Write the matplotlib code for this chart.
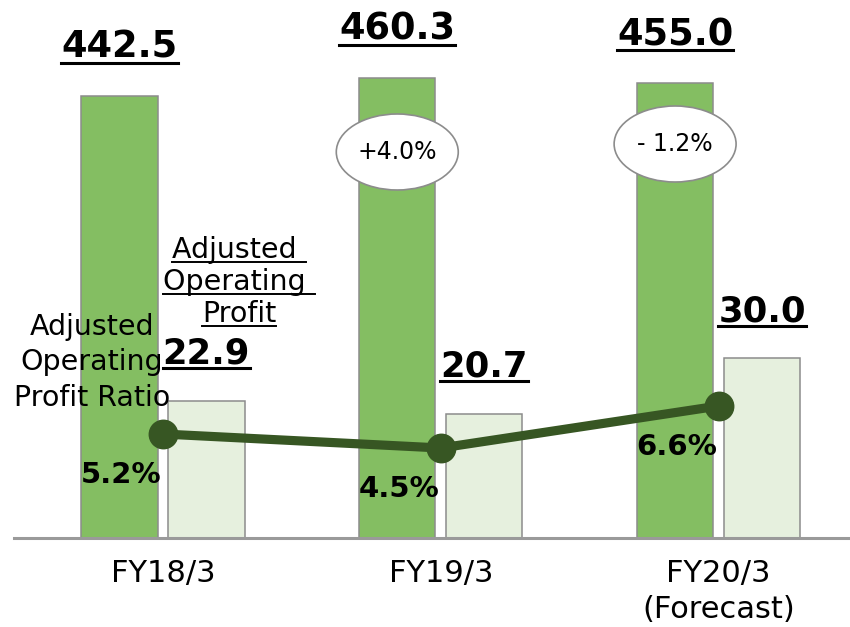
import numpy as np
import matplotlib
matplotlib.use('Agg')
import matplotlib.pyplot as plt
from matplotlib.patches import Ellipse
from matplotlib.lines import Line2D
from matplotlib.transforms import IdentityTransform

# ── Data ─────────────────────────────────────────────────────────
years  = ['FY18/3', 'FY19/3', 'FY20/3\n(Forecast)']
sales  = [442.5, 460.3, 455.0]      # net sales
profit = [22.9, 20.7, 30.0]         # adjusted operating profit
ratio  = [5.2, 4.5, 6.6]            # adjusted operating profit ratio (%)
growth = [None, '+4.0%', '- 1.2%']  # YoY change of sales

# ── Style ────────────────────────────────────────────────────────
SALES_C  = '#84BE62'
PROFIT_C = '#E6F0DE'
EDGE     = '#8C8C8C'
LINE_C   = '#375623'
AXIS_C   = '#9A9A9A'
W, H = 850, 627

plt.rcParams['font.family'] = 'DejaVu Sans'

def px(x, y):
    return x / W, 1 - y / H

fig = plt.figure(figsize=(W / 100, H / 100), dpi=100, facecolor='white')
ax = fig.add_axes([14 / W, 89 / H, 836 / W, 538 / H])
ax_p = ax.twinx()
ax_r = ax.twinx()

x = np.arange(len(years))
bw, off = 0.275, 0.1565

ax.bar(x - off, sales, bw, color=SALES_C, edgecolor=EDGE, linewidth=1.1, zorder=2)
ax_p.bar(x + off, profit, bw, color=PROFIT_C, edgecolor=EDGE, linewidth=1.1)
ax_r.plot(x, ratio, color=LINE_C, lw=6.6, marker='o', ms=20.5, zorder=5)

ax.set_xlim(-0.536, 2.473)
ax.set_ylim(0, 538)
ax_p.set_ylim(0, 538 / 6)
ax_r.set_ylim(0, 538 / 20)

for a in (ax, ax_p, ax_r):
    for sp in a.spines.values():
        sp.set_visible(False)
    a.set_yticks([])
ax_r.spines['bottom'].set_visible(True)
ax_r.spines['bottom'].set_color(AXIS_C)
ax_r.spines['bottom'].set_linewidth(2.2)

ax.set_xticks(x)
ax.set_xticklabels(years, fontsize=22, linespacing=1.3)
ax.tick_params(axis='x', length=0, pad=15)

underlined = []

# sales labels
for xi, v in zip(x, sales):
    t = ax.annotate(f'{v:.1f}', xy=(xi - off, v), xytext=(0, 38),
                    textcoords='offset pixels', ha='center', va='baseline',
                    fontsize=26.5, fontweight='bold')
    underlined.append((t, 2.2))

# profit labels
for xi, v in zip(x, profit):
    t = ax_p.annotate(f'{v:.1f}', xy=(xi + off, v), xytext=(0, 37),
                      textcoords='offset pixels', ha='center', va='baseline',
                      fontsize=25.5, fontweight='bold')
    underlined.append((t, 2.2))

# ratio labels
for xi, v in zip(x, ratio):
    ax_r.annotate(f'{v:.1f}%', xy=(xi, v), xytext=(-1, -49),
                  textcoords='offset pixels', ha='right', va='baseline',
                  fontsize=21, fontweight='bold')

# growth bubbles
bubble_y = [None, 386, 394]
for xi, g, by in zip(x, growth, bubble_y):
    if g is None:
        continue
    ax.add_patch(Ellipse((xi - off, by), 0.439, 76, facecolor='white',
                         edgecolor=EDGE, linewidth=1.2, zorder=3))
    ax.text(xi - off, by, g, ha='center', va='center', fontsize=17, zorder=4)

# legend-like captions
for s, yy in [('Adjusted', 335), ('Operating', 370), ('Profit Ratio', 406)]:
    fig.text(*px(92, yy), s, ha='center', va='baseline', fontsize=20.5)

for s, yy in [('Adjusted ', 258), ('Operating ', 290), ('Profit', 322)]:
    t = fig.text(*px(239, yy), s, ha='center', va='baseline', fontsize=20.5)
    underlined.append((t, 1.4))

# draw underlines in pixel space
fig.canvas.draw()
for t, lw in underlined:
    bb = t.get_window_extent()
    em = t.get_fontsize() * 100 / 72
    y = bb.y0 + 0.07 * em
    fig.add_artist(Line2D([bb.x0, bb.x1], [y, y], color='black', lw=lw,
                          transform=IdentityTransform()))

fig.savefig('out.png', dpi=100, facecolor='white')
